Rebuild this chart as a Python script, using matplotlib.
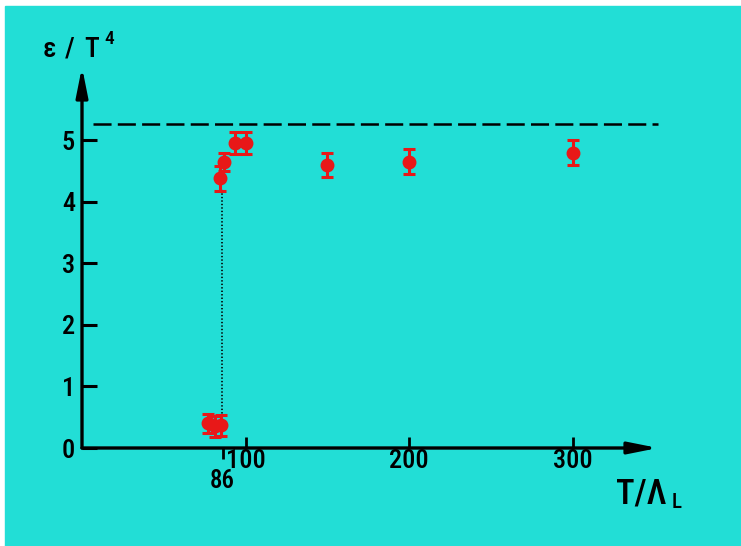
import matplotlib.pyplot as plt
from matplotlib.patches import Rectangle

plt.rcParams['font.family'] = ['Roboto Condensed', 'DejaVu Sans']
plt.rcParams['font.weight'] = 'medium'
plt.rcParams['lines.scale_dashes'] = False

bg = '#22ded6'
red = '#e81818'

# energy density above the transition
t_hot = [84.5, 86.5, 93.5, 100, 150, 200, 300]
e_hot = [4.38, 4.65, 4.95, 4.95, 4.60, 4.65, 4.80]
err_hot = [0.20, 0.15, 0.18, 0.18, 0.20, 0.20, 0.20]

# energy density below the transition
t_cold = [77, 81, 85]
e_cold = [0.40, 0.35, 0.37]
err_cold = [0.15, 0.17, 0.17]

sb_limit = 5.26   # free gluon gas, 8 pi^2 / 15
t_c = 85.5        # jump temperature

yticks = [0, 1, 2, 3, 4, 5]
xticks = [100, 200, 300]
xtick_c = [86]

W, H = 741, 546
fig = plt.figure(figsize=(W / 100, H / 100), dpi=100, facecolor='white')
fig.add_artist(Rectangle((5 / W, 0), 1, 1 - 6 / H, transform=fig.transFigure,
                         color=bg, zorder=-1))

ax = fig.add_axes([82 / W, 98 / H, 576 / W, 381 / H])
ax.set_facecolor('none')
ax.set_xlim(0, 352)
ax.set_ylim(0, 6.19)
for s in ax.spines.values():
    s.set_visible(False)

# axes drawn as arrows
arrow = dict(arrowstyle='-|>,head_length=1.1,head_width=0.22', lw=2.4, color='black',
             mutation_scale=16, shrinkA=0, shrinkB=0)
ax.annotate('', xy=(352, 0), xytext=(0, 0), arrowprops=arrow, annotation_clip=False)
ax.annotate('', xy=(0, 6.19), xytext=(0, 0), arrowprops=arrow, annotation_clip=False)

ax.set_yticks(yticks)
ax.tick_params(axis='y', direction='in', length=11, width=2.2, pad=5, labelsize=19)
ax.set_xticks(xticks)
ax.tick_params(axis='x', which='major', direction='in', length=8, width=2, pad=1, labelsize=19)
ax.set_xticks(xtick_c, labels=[str(v) for v in xtick_c], minor=True)
ax.tick_params(axis='x', which='minor', direction='out', length=8, width=2, pad=7, labelsize=18)

ax.plot([7, 352], [sb_limit, sb_limit], color='black', lw=1.8, dashes=(13, 4.5), clip_on=False)
ax.plot([t_c, t_c], [0.5, 4.2], color='black', lw=1.2, linestyle=(0, (1, 1.5)))

for t, e, err in [(t_hot, e_hot, err_hot), (t_cold, e_cold, err_cold)]:
    ax.errorbar(t, e, yerr=err, fmt='o', color=red, ms=9, elinewidth=2.2,
                capsize=4, capthick=2.2, zorder=3)

# y label: epsilon / T^4
for x, s in [(43, 'ε'), (65, '/'), (84, 'T')]:
    fig.text(x / W, 1 - 57 / H, s, fontsize=20, va='baseline', ha='left')
fig.text(104 / W, 1 - 44 / H, '4', fontsize=14, va='baseline', ha='left')

# x label: T / Lambda_L
xlab = fig.text(616 / W, 1 - 503 / H, 'T/Λ', fontsize=25, va='baseline', ha='left')
fig.canvas.draw()
bb = xlab.get_window_extent(fig.canvas.get_renderer())
fig.text((bb.x1 + 5) / W, 1 - 508 / H, 'L', fontsize=15, va='baseline', ha='left')

fig.savefig('out.png', dpi=100, facecolor=fig.get_facecolor())
